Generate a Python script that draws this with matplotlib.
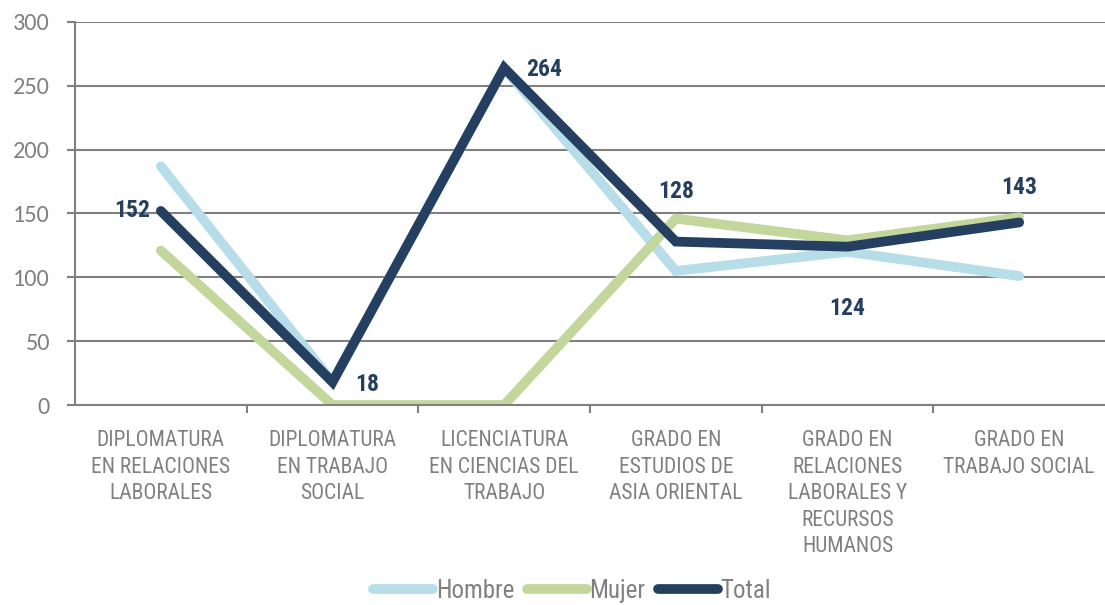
import numpy as np
import matplotlib.pyplot as plt

categories = [
    "DIPLOMATURA\nEN RELACIONES\nLABORALES",
    "DIPLOMATURA\nEN TRABAJO\nSOCIAL",
    "LICENCIATURA\nEN CIENCIAS DEL\nTRABAJO",
    "GRADO EN\nESTUDIOS DE\nASIA ORIENTAL",
    "GRADO EN\nRELACIONES\nLABORALES Y\nRECURSOS\nHUMANOS",
    "GRADO EN\nTRABAJO SOCIAL",
]
hombre = [187, 18, 264, 105, 120, 101]
mujer = [121, 0, 0, 146, 129, 147]
total = [152, 18, 264, 128, 124, 143]

narrow = ['Roboto Condensed', 'Archivo Narrow', 'Liberation Sans', 'DejaVu Sans']
calibri = ['Carlito', 'Liberation Sans', 'DejaVu Sans']
plt.rcParams['font.family'] = narrow

c_h = '#B7DDE8'
c_m = '#C3D69B'
c_t = '#243F60'
gray = '#808080'

fig = plt.figure(figsize=(11.05, 6.05), dpi=100)
ax = fig.add_axes([75 / 1105, 1 - 405 / 605, 1030 / 1105, 383 / 605])

x = np.arange(len(categories))
kw = dict(linewidth=7, solid_capstyle='round', solid_joinstyle='miter')
ax.plot(x, hombre, color=c_h, label='Hombre', **kw)
ax.plot(x, mujer, color=c_m, label='Mujer', **kw)
ax.plot(x, total, color=c_t, label='Total', **kw)

# data labels for Total (offsets in points)
offsets = [(-8, 0, 'right', 'center'), (16, -2, 'left', 'center'),
           (16, -1, 'left', 'center'), (0, 28, 'center', 'bottom'),
           (0, -36, 'center', 'top'), (0, 17, 'center', 'bottom')]
for xi, v, (dx, dy, ha, va) in zip(x, total, offsets):
    ax.annotate(str(v), (xi, v), xytext=(dx, dy), textcoords='offset points',
                ha=ha, va=va, fontsize=17, fontweight='bold', color=c_t)

ax.set_xlim(-0.5, len(categories) - 0.5)
ax.set_ylim(0, 300)
ax.set_yticks(range(0, 301, 50))
ax.grid(axis='y', color=gray, linewidth=1.5)
ax.set_axisbelow(True)
for s in ['top', 'right']:
    ax.spines[s].set_visible(False)
for s in ['left', 'bottom']:
    ax.spines[s].set_color(gray)
    ax.spines[s].set_linewidth(1.5)

ax.set_xticks(x)
ax.set_xticklabels(categories, fontsize=15.5, color=gray, linespacing=1.35, va='top')
ax.tick_params(axis='x', length=0, pad=18)
ax.set_xticks(np.arange(0.5, len(categories) - 1), minor=True)
ax.tick_params(axis='x', which='minor', length=6, color=gray, width=1.5)
ax.tick_params(axis='y', length=6, color=gray, width=1.5, labelsize=17.5, labelcolor=gray, pad=12)
for lab in ax.get_yticklabels():
    lab.set_family(calibri)

leg = fig.legend(loc='center', bbox_to_anchor=(572 / 1105, 1 - 591 / 605), ncol=3,
                 frameon=False, fontsize=18, handlelength=2.4, handletextpad=0.1,
                 columnspacing=0.5, labelcolor=gray)

fig.savefig('out.png', dpi=100)
